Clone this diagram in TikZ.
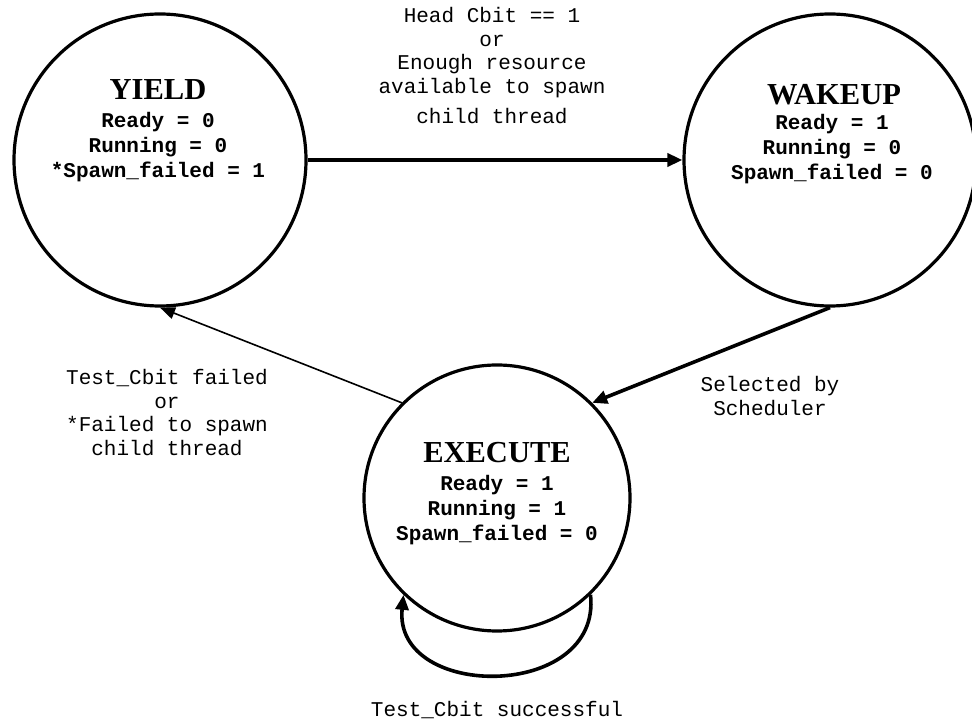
\documentclass[tikz,border=0pt]{standalone}
\usepackage{fontspec}
\setmainfont{Liberation Serif}
\setmonofont{Liberation Mono}
\usetikzlibrary{arrows.meta}

% multi-line block whose base is the baseline of its first line
\newcommand{\stack}[1]{\begin{tabular}[t]{@{}c@{}}#1\end{tabular}}

\begin{document}
\begin{tikzpicture}[x=1pt,y=1pt,
  state/.style={circle, draw, line width=3.2pt, inner sep=0pt, minimum size=#1},
  statename/.style={anchor=base, inner sep=0pt, font=\fontsize{30.5}{32}\selectfont\bfseries},
  statevars/.style={anchor=base, inner sep=0pt, font=\ttfamily\bfseries\fontsize{21}{25}\selectfont},
  edgetext/.style={anchor=base, inner sep=0pt, font=\ttfamily\fontsize{21}{23.5}\selectfont},
  bigarrow/.style={line width=3.6pt, -{Triangle[length=15pt,width=13pt]}},
  thinarrow/.style={line width=1.6pt, -{Triangle[length=15pt,width=12pt]}},
]
\useasboundingbox (0,0) rectangle (972,723);

% states
\node[state=292] (yield)   at (160,563) {};
\node[state=292] (wakeup)  at (830,563) {};
\node[state=266] (execute) at (497,225) {};

% state contents
\node[statename] (yieldname) at (158,623) {YIELD};
\node[statevars] (yieldvars) at (158,595) {\stack{Ready = 0\\ Running = 0\\ {*}Spawn\_failed = 1}};

\node[statename] (wakeupname) at (834,618) {WAKEUP};
\node[statevars] (wakeupvars) at (832,593) {\stack{Ready = 1\\ Running = 0\\ Spawn\_failed = 0}};

\node[statename] (executename) at (497,260) {EXECUTE};
\node[statevars] (executevars) at (497,232) {\stack{Ready = 1\\ Running = 1\\ Spawn\_failed = 0}};

% transitions
\draw[bigarrow] (yield) -- (wakeup);
\draw[bigarrow] (wakeup.south) -- (execute.45);
\draw[thinarrow] (execute.135) -- (yield.south);
\draw[bigarrow] (execute.-46) .. controls (602,22) and (393,22) .. (execute.-134);

% transition labels
\node[edgetext] (wakelabel) at (492,700)
  {\stack{Head Cbit == 1\\ or\\ Enough resource\\ available to spawn\\[7pt] child thread}};
\node[edgetext] (yieldlabel) at (167,338)
  {\stack{Test\_Cbit failed\\ or\\ {*}Failed to spawn\\ child thread}};
\node[edgetext] (schedlabel) at (770,331) {\stack{Selected by\\ Scheduler}};
\node[edgetext] (looplabel) at (497,6) {Test\_Cbit successful};
\end{tikzpicture}
\end{document}
